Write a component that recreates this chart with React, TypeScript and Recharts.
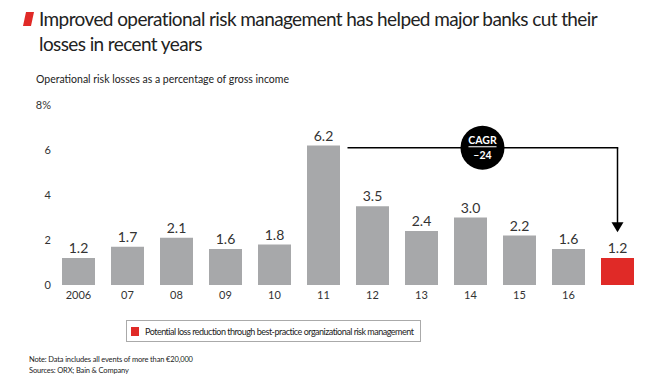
import React from 'react'
import { BarChart, Bar, XAxis, YAxis, LabelList, Cell, ReferenceLine } from 'recharts'

const years = ['2006', '07', '08', '09', '10', '11', '12', '13', '14', '15', '16', 'P']
const losses = [1.2, 1.7, 2.1, 1.6, 1.8, 6.2, 3.5, 2.4, 3.0, 2.2, 1.6, 1.2]
const yTicks = [0, 2, 4, 6, 8]
const cagrLabel = ['CAGR', '–24']

const data = years.map((year, i) => ({ year, value: losses[i] }))

const FONT = 'Lato, "Open Sans", sans-serif'
const GREY = '#a7a8aa'
const RED = '#e02a27'
const TEXT = '#333'

// horizontal connector with the CAGR badge in the middle
function CagrLine(props: any) {
  const { x1, y1, x2 } = props
  const start = x1 + 24
  const cx = (start + x2) / 2
  return (
    <g>
      <line x1={start} y1={y1} x2={x2 + 0.75} y2={y1} stroke="#000" strokeWidth={1.5} />
      <circle cx={cx} cy={y1} r={22} fill="#000" />
      <text x={cx} y={y1 - 4} textAnchor="middle" fill="#fff" fontSize={10.5} fontWeight={700} fontFamily={FONT}>
        {cagrLabel[0]}
      </text>
      <line x1={cx - 14} y1={y1 - 1} x2={cx + 14} y2={y1 - 1} stroke="#fff" strokeWidth={1} />
      <text x={cx} y={y1 + 11} textAnchor="middle" fill="#fff" fontSize={10.5} fontWeight={700} fontFamily={FONT}>
        {cagrLabel[1]}
      </text>
    </g>
  )
}

function ArrowDown(props: any) {
  const { x1, y1, y2 } = props
  return (
    <g>
      <line x1={x1} y1={y1} x2={x1} y2={y2 - 8} stroke="#000" strokeWidth={1.5} />
      <path d={`M${x1 - 6},${y2 - 10} L${x1 + 6},${y2 - 10} L${x1},${y2} Z`} fill="#000" />
    </g>
  )
}

export default function App() {
  return (
    <div style={{ position: 'absolute', left: 0, top: 0, width: 665, height: 391, background: '#fff', fontFamily: FONT, color: TEXT }}>
      <svg style={{ position: 'absolute', left: 23, top: 12 }} width={12} height={15}>
        <polygon points="3,0 11,0 8,14 0,14" fill={RED} />
      </svg>
      <div
        style={{
          position: 'absolute',
          left: 39,
          top: 6,
          fontSize: 19,
          letterSpacing: -0.6,
          lineHeight: '25px',
          color: '#222',
          whiteSpace: 'nowrap',
        }}
      >
        <div>Improved operational risk management has helped major banks cut their</div>
        <div>losses in recent years</div>
      </div>
      <div style={{ position: 'absolute', left: 36, top: 73, fontSize: 10.5, color: '#222' }}>
        Operational risk losses as a percentage of gross income
      </div>

      <div style={{ position: 'absolute', left: 0, top: 0 }}>
        <BarChart width={665} height={391} data={data} margin={{ top: 105, right: 23, bottom: 86, left: 0 }}>
          <XAxis
            dataKey="year"
            axisLine={false}
            tickLine={false}
            tickSize={0}
            tickMargin={6}
            height={20}
            tickFormatter={(v: string) => (v === 'P' ? '' : v)}
            tick={{ fill: TEXT, fontSize: 11, fontFamily: FONT }}
          />
          <YAxis
            domain={[0, 8]}
            ticks={yTicks}
            width={54}
            axisLine={false}
            tickLine={false}
            tickSize={0}
            tickMargin={3}
            tickFormatter={(v: number) => (v === 8 ? '8%' : String(v))}
            tick={{ fill: TEXT, fontSize: 11, fontFamily: FONT }}
          />
          <Bar dataKey="value" barSize={33} isAnimationActive={false}>
            {data.map((d, i) => (
              <Cell key={d.year} fill={i === data.length - 1 ? RED : GREY} />
            ))}
            <LabelList
              dataKey="value"
              position="top"
              offset={5}
              formatter={(v: number) => v.toFixed(1)}
              style={{ fill: TEXT, fontSize: 14, fontFamily: FONT }}
            />
          </Bar>
          <ReferenceLine
            segment={[{ x: '11', y: 6.1 }, { x: 'P', y: 6.1 }]}
            shape={CagrLine}
            ifOverflow="visible"
          />
          <ReferenceLine
            segment={[{ x: 'P', y: 6.1 }, { x: 'P', y: 2.35 }]}
            shape={ArrowDown}
            ifOverflow="visible"
          />
        </BarChart>
      </div>

      <div
        style={{
          position: 'absolute',
          left: 126,
          top: 320,
          width: 295,
          height: 22,
          border: '1px solid #aaa',
          display: 'flex',
          alignItems: 'center',
          fontSize: 9,
          letterSpacing: -0.5,
          whiteSpace: 'nowrap',
          color: '#222',
          boxSizing: 'border-box',
        }}
      >
        <span
          style={{ display: 'inline-block', flexShrink: 0, width: 8, height: 9, background: RED, marginLeft: 4, marginRight: 6 }}
        />
        Potential loss reduction through best-practice organizational risk management
      </div>

      <div
        style={{
          position: 'absolute',
          left: 29,
          top: 354,
          fontSize: 7.5,
          letterSpacing: -0.15,
          lineHeight: '11px',
          color: '#222',
          whiteSpace: 'nowrap',
        }}
      >
        <div>Note: Data includes all events of more than €20,000</div>
        <div>Sources: ORX; Bain &amp; Company</div>
      </div>
    </div>
  )
}
